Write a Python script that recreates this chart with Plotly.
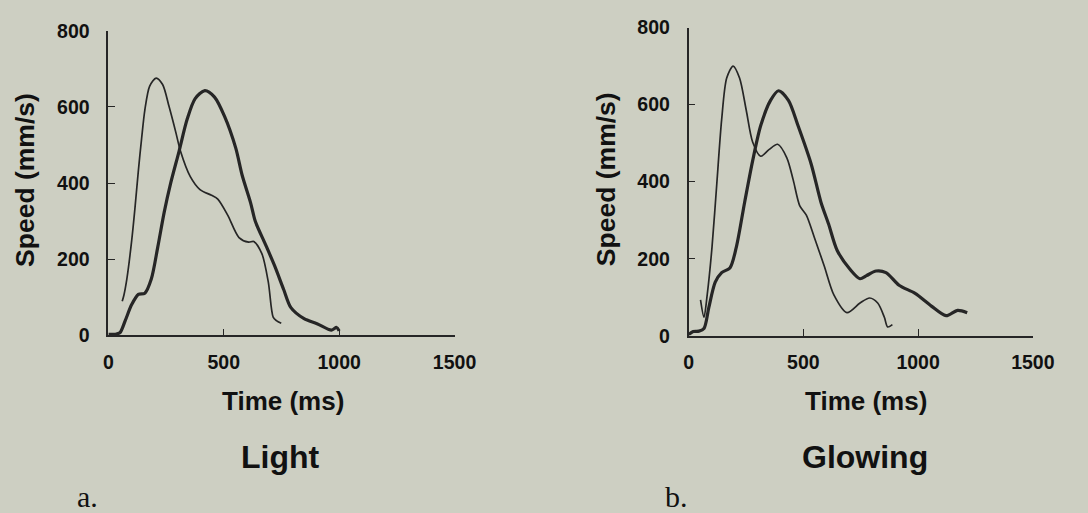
import plotly.graph_objects as go

# ---- Data ----
light_fast_t = [60, 67, 80, 101, 115, 130, 144, 158, 179, 207, 235, 263, 292, 313, 355, 397, 447, 474, 517, 566, 608, 630, 665, 693, 714, 728, 749]
light_fast_v = [90, 105, 148, 249, 333, 433, 517, 592, 655, 676, 659, 601, 534, 483, 417, 383, 368, 358, 316, 257, 245, 247, 215, 140, 48, 39, 32]

light_slow_t = [0, 30, 50, 73, 101, 130, 158, 186, 214, 242, 270, 306, 341, 376, 418, 460, 503, 552, 580, 616, 637, 680, 721, 760, 791, 848, 904, 967, 989, 1000]
light_slow_v = [3, 3, 7, 39, 81, 108, 111, 148, 232, 324, 400, 483, 567, 622, 643, 626, 576, 492, 420, 349, 299, 240, 182, 120, 73, 44, 31, 14, 21, 12]

glow_fast_t = [52, 67, 81, 102, 123, 144, 166, 194, 222, 251, 279, 314, 350, 388, 428, 456, 484, 513, 548, 591, 633, 690, 747, 789, 824, 853, 867, 888]
glow_fast_v = [93, 48, 106, 230, 396, 561, 669, 700, 669, 586, 503, 466, 483, 497, 462, 404, 338, 313, 255, 181, 106, 60, 85, 98, 85, 48, 23, 29]

glow_slow_t = [0, 20, 45, 67, 88, 116, 144, 180, 208, 244, 279, 314, 357, 392, 435, 477, 534, 577, 610, 647, 704, 747, 775, 817, 860, 917, 987, 1058, 1122, 1172, 1214]
glow_slow_v = [3, 11, 12, 19, 73, 139, 164, 176, 230, 346, 454, 545, 611, 636, 611, 545, 446, 346, 290, 222, 172, 148, 156, 168, 164, 131, 110, 77, 52, 66, 60]

x_ticks = [0, 500, 1000, 1500]
y_ticks = [0, 200, 400, 600, 800]

ink = "#262626"
bg = "#cdcfc2"

fig = go.Figure()

def add(t, v, w, ax):
    fig.add_trace(go.Scatter(
        x=t, y=v, mode="lines", line=dict(color=ink, width=w, shape="spline", smoothing=0.8),
        xaxis="x" if ax == 1 else "x2", yaxis="y" if ax == 1 else "y2",
        showlegend=False, hoverinfo="skip"))

add(light_fast_t, light_fast_v, 1.7, 1)
add(light_slow_t, light_slow_v, 3.2, 1)
add(glow_fast_t, glow_fast_v, 1.7, 2)
add(glow_slow_t, glow_slow_v, 3.2, 2)

tickfont = dict(family="Liberation Sans, Arial, sans-serif", size=19.5, color="#111", weight="bold")

def xax(dom, anchor):
    return dict(domain=dom, anchor=anchor, range=[0, 1500], tickvals=x_ticks,
                ticktext=[str(v) for v in x_ticks], ticks="inside", ticklen=7,
                tickwidth=1.3, tickcolor=ink, showline=True, linecolor=ink, linewidth=1.6,
                showgrid=False, zeroline=False, tickfont=tickfont, ticklabelstandoff=8)

def yax(dom, anchor):
    return dict(domain=dom, anchor=anchor, range=[0, 800], tickvals=y_ticks,
                ticktext=[str(v) for v in y_ticks], ticks="inside", ticklen=7,
                tickwidth=1.3, tickcolor=ink, showline=True, linecolor=ink, linewidth=1.6,
                showgrid=False, zeroline=False, tickfont=tickfont, ticklabelstandoff=13)

W, H = 1088, 513
fig.update_layout(
    width=W, height=H, margin=dict(l=0, r=0, t=0, b=0),
    paper_bgcolor=bg, plot_bgcolor=bg,
    xaxis=xax([106 / W, 461 / W], "y"),
    yaxis=yax([(H - 339) / H, (H - 20.7) / H], "x"),
    xaxis2=xax([701 / W, 1054 / W], "y2"),
    yaxis2=yax([(H - 339.3) / H, (H - 17.3) / H], "x2"),
)

bold = "Liberation Sans, Arial, sans-serif"
def ann(text, x, y, size, angle=0, family=bold, bold_=True):
    fig.add_annotation(text=f"<b>{text}</b>" if bold_ else text, x=x / W, y=1 - y / H,
                       xref="paper", yref="paper", showarrow=False, textangle=angle,
                       xanchor="center", yanchor="middle",
                       font=dict(family=family, size=size, color="#111"))

ann("Speed (mm/s)", 21, 176, 26.5, angle=-90)
ann("Speed (mm/s)", 617, 176, 26.5, angle=-90)
ann("Time (ms)", 285, 407, 26)
ann("Time (ms)", 883, 407, 26)
ann("Light", 282, 466, 32)
ann("Glowing", 882, 466, 32)
ann("a.", 85, 507, 30, family="Liberation Serif, Times New Roman, serif", bold_=False)
ann("b.", 689, 507, 30, family="Liberation Serif, Times New Roman, serif", bold_=False)

fig.write_html("out.html", config={"displayModeBar": False},
               post_script="document.body.style.margin='0';document.body.style.overflow='hidden';")
